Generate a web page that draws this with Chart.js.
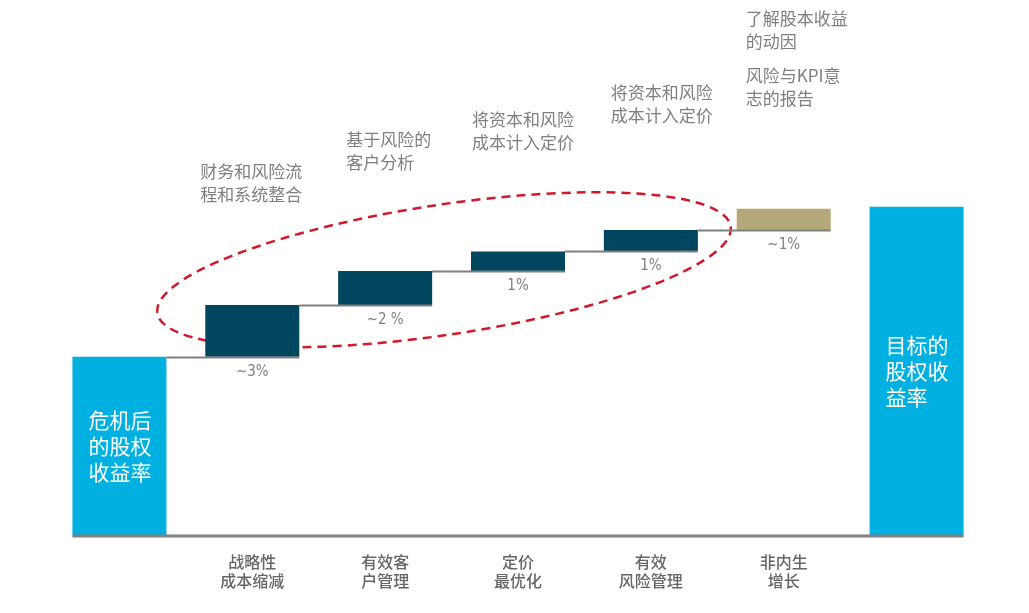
<!DOCTYPE html>
<html>
<head>
<meta charset="utf-8">
<script src="https://cdn.jsdelivr.net/npm/chart.js@4.4.1/dist/chart.umd.min.js"></script>
<style>
  html, body { margin: 0; padding: 0; background: #fff; }
  #c { display: block; }
</style>
</head>
<body>
<canvas id="c" width="1029" height="613"></canvas>
<script>
// waterfall: ROE after crisis -> target ROE
const categories = [[''], ['战略性', '成本缩减'], ['有效客', '户管理'], ['定价', '最优化'], ['有效', '风险管理'], ['非内生', '增长'], ['']];
const startValue = 10.0;
const steps = [2.9, 1.9, 1.1, 1.2, 1.2];
const endValue = 18.4;
const stepLabels = ['~3%', '~2 %', '1%', '1%', '~1%'];
const startText = ['危机后', '的股权', '收益率'];
const endText = ['目标的', '股权收', '益率'];
const notes = [
    [1, ['财务和风险流', '程和系统整合']],
    [2, ['基于风险的', '客户分析']],
    [3, ['将资本和风险', '成本计入定价']],
    [4, ['将资本和风险', '成本计入定价']],
    [5, ['了解股本收益', '的动因']],
    [5, ['风险与KPI意', '志的报告']],
];

const CYAN = '#00b0e0';
const NAVY = '#00465f';
const TAN = '#b5a97a';
const GREY = '#808080';
const FONT = "'Noto Sans CJK SC', 'Noto Sans', sans-serif";

// note blocks: first line centre (px from top) and shift from the bar's left edge
const NOTE_Y = [172, 140, 120, 93, 19, 76];
const NOTE_DX = [-5, 8, 1, 7, 9, 9];

let level = startValue;
const floating = [[0, startValue]];
steps.forEach((s) => {
    floating.push([level, level + s]);
    level += s;
});
floating.push([0, endValue]);

const colors = [CYAN, NAVY, NAVY, NAVY, NAVY, TAN, CYAN];

const waterfallDecor = {
    id: 'waterfallDecor',
    beforeDatasetsDraw(chart) {
        const { ctx } = chart;
        const bars = chart.getDatasetMeta(0).data;
        const y = chart.scales.y;
        // dashed ellipse round the four levers
        const lx = bars[1].x - bars[1].width / 2 - 48;
        const ly = y.getPixelForValue(12.45);
        const rx = bars[5].x - bars[5].width / 2 - 6;
        const ry = y.getPixelForValue(17.3);
        const cx = (lx + rx) / 2;
        const cy = (ly + ry) / 2;
        const a = Math.hypot(rx - lx, ry - ly) / 2;
        const rot = Math.atan2(ry - ly, rx - lx);
        ctx.save();
        ctx.strokeStyle = '#d0192b';
        ctx.lineWidth = 2.5;
        ctx.setLineDash([9, 6]);
        ctx.beginPath();
        ctx.ellipse(cx, cy, a, 65, rot, 0, Math.PI * 2);
        ctx.stroke();
        ctx.restore();
    },
    afterDatasetsDraw(chart) {
        const { ctx } = chart;
        const bars = chart.getDatasetMeta(0).data;
        const y0 = chart.scales.y.getPixelForValue(0);
        ctx.save();

        // connectors
        ctx.strokeStyle = GREY;
        ctx.lineWidth = 2;
        for (let i = 0; i < 5; i++) {
            const a = bars[i], b = bars[i + 1];
            const yy = Math.round(Math.min(a.y, a.base)) + 0.5;
            ctx.beginPath();
            ctx.moveTo(a.x + a.width / 2, yy);
            ctx.lineTo(b.x + b.width / 2, yy);
            ctx.stroke();
        }

        // baseline
        ctx.lineWidth = 3;
        ctx.beginPath();
        ctx.moveTo(bars[0].x - bars[0].width / 2, y0 + 1);
        ctx.lineTo(bars[6].x + bars[6].width / 2, y0 + 1);
        ctx.stroke();

        // step value labels
        ctx.fillStyle = GREY;
        ctx.font = "15px 'Liberation Sans Narrow', 'DejaVu Sans Condensed', sans-serif";
        ctx.textAlign = 'center';
        ctx.textBaseline = 'middle';
        stepLabels.forEach((t, i) => {
            const b = bars[i + 1];
            ctx.fillText(t, b.x, Math.max(b.y, b.base) + 15);
        });

        // white text inside the two cyan bars
        ctx.fillStyle = '#ffffff';
        ctx.font = '21px ' + FONT;
        ctx.textAlign = 'left';
        [[0, startText], [6, endText]].forEach(([i, lines]) => {
            const b = bars[i];
            const mid = (b.y + b.base) / 2;
            lines.forEach((t, k) => {
                ctx.fillText(t, b.x - 31, mid + (k - (lines.length - 1) / 2) * 26);
            });
        });

        // grey notes above the levers
        ctx.fillStyle = '#7f7f7f';
        ctx.font = '17px ' + FONT;
        notes.forEach(([i, lines], n) => {
            const b = bars[i];
            lines.forEach((t, k) => {
                ctx.fillText(t, b.x - b.width / 2 + NOTE_DX[n], NOTE_Y[n] + k * 23);
            });
        });
        ctx.restore();
    },
};

new Chart(document.getElementById('c'), {
    type: 'bar',
    plugins: [waterfallDecor],
    data: {
        labels: categories,
        datasets: [{
            data: floating,
            backgroundColor: colors,
            borderWidth: 0,
            borderSkipped: false,
            categoryPercentage: 0.7075,
            barPercentage: 1.0,
        }],
    },
    options: {
        responsive: false,
        animation: false,
        devicePixelRatio: 1,
        layout: { padding: { left: 53, right: 46, top: 0, bottom: 0 } },
        plugins: {
            legend: { display: false },
            tooltip: { enabled: false },
        },
        scales: {
            y: {
                display: false,
                min: 0,
                max: 30,
            },
            x: {
                grid: { display: false, drawTicks: false },
                border: { display: false },
                ticks: {
                    color: '#666666',
                    padding: 17,
                    maxRotation: 0,
                    autoSkip: false,
                    font: { family: FONT, size: 16, weight: 500 },
                },
                afterFit: (scale) => { scale.height = 78; },
            },
        },
    },
});
</script>
</body>
</html>
